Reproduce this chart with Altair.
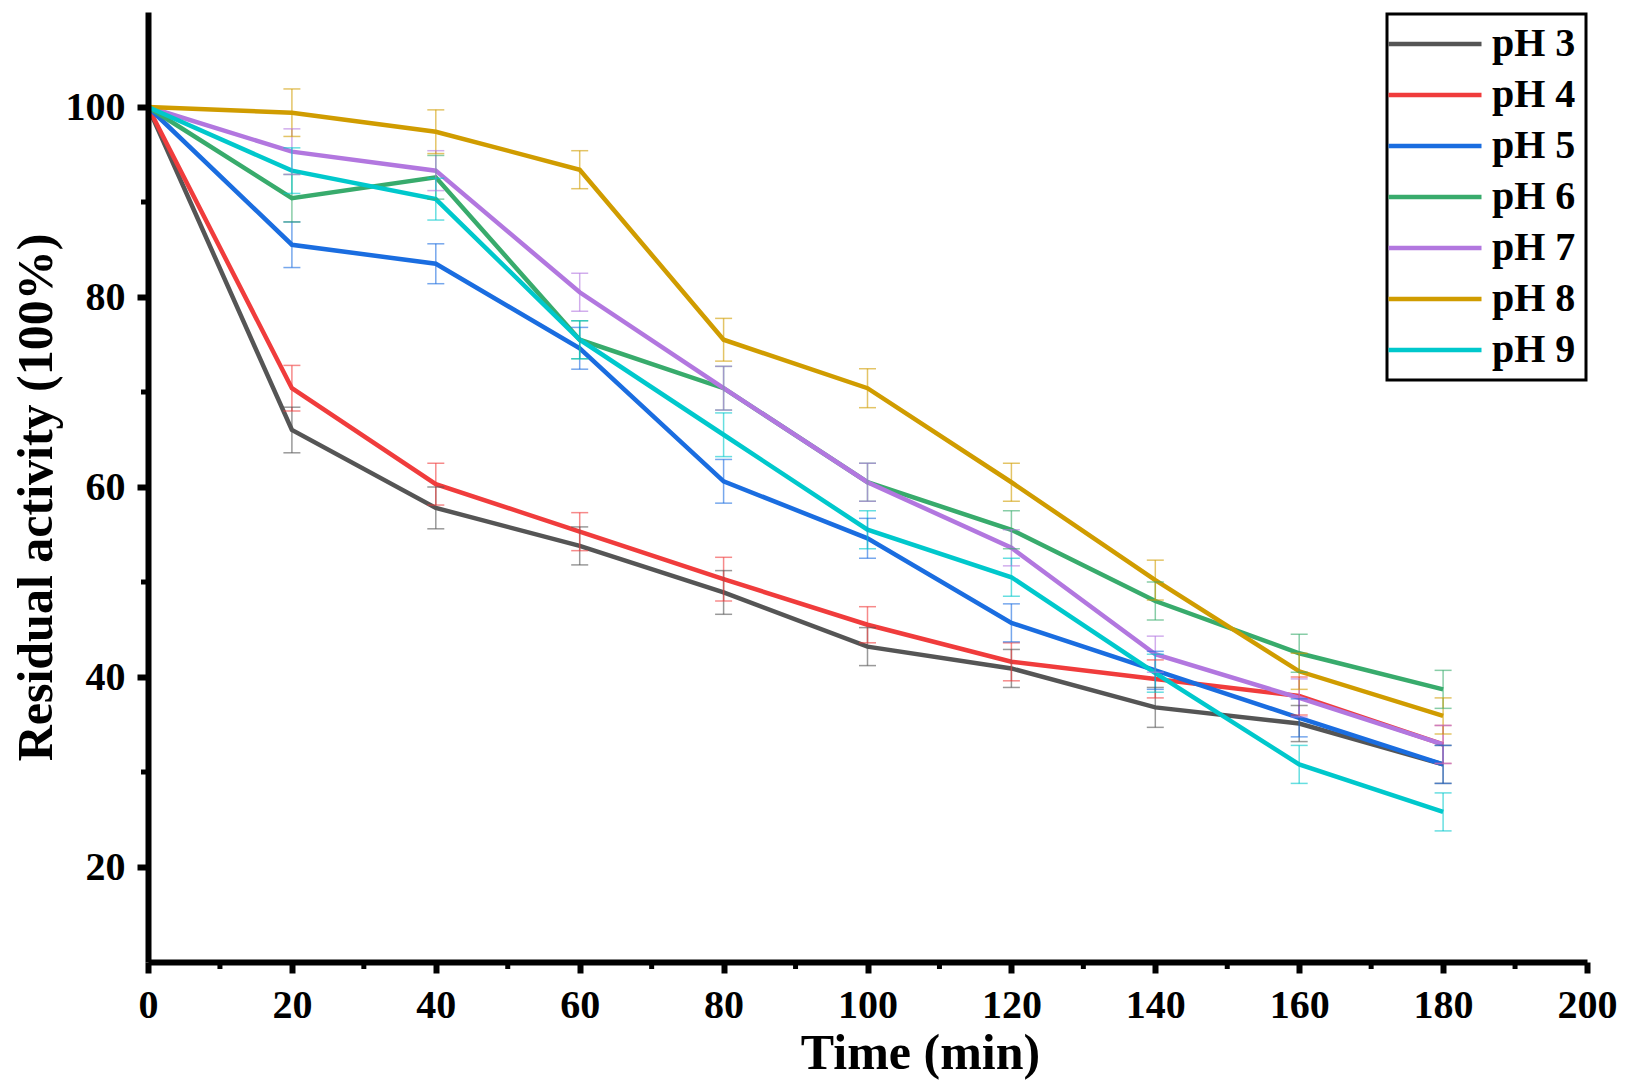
import altair as alt
import pandas as pd

# ---- data ----
times = [0, 20, 40, 60, 80, 100, 120, 140, 160, 180]
series_names = ["pH 3", "pH 4", "pH 5", "pH 6", "pH 7", "pH 8", "pH 9"]
colors = ["#555555", "#f03c3c", "#1a6de0", "#38ab6c", "#b277df", "#d09c00", "#00c8cc"]

ph3 = [100, 66.0, 57.8, 53.8, 48.9, 43.2, 40.9, 36.8, 35.1, 30.8]
ph4 = [100, 70.4, 60.3, 55.3, 50.3, 45.5, 41.6, 39.8, 38.0, 32.9]
ph5 = [100, 85.5, 83.5, 74.6, 60.6, 54.6, 45.7, 40.7, 35.7, 30.8]
ph6 = [100, 90.4, 92.6, 75.5, 70.4, 60.5, 55.5, 48.0, 42.5, 38.7]
ph7 = [100, 95.3, 93.3, 80.5, 70.4, 60.5, 53.6, 42.4, 37.8, 32.9]
ph8 = [100, 99.4, 97.4, 93.4, 75.5, 70.4, 60.5, 50.2, 40.6, 35.9]
ph9 = [100, 93.3, 90.3, 75.5, 65.5, 55.5, 50.5, 40.4, 30.8, 25.8]

err3 = [0, 2.4, 2.2, 2.0, 2.3, 2.0, 2.0, 2.1, 1.9, 2.0]
err4 = [0, 2.4, 2.2, 2.0, 2.3, 1.9, 2.0, 2.0, 2.0, 2.0]
err5 = [0, 2.4, 2.1, 2.2, 2.3, 2.1, 2.0, 2.0, 2.0, 2.0]
err6 = [0, 2.5, 2.3, 2.0, 2.3, 2.0, 2.0, 2.0, 2.0, 2.0]
err7 = [0, 2.4, 2.1, 2.0, 2.3, 2.0, 1.9, 1.9, 2.0, 2.0]
err8 = [0, 2.5, 2.3, 2.0, 2.25, 2.05, 2.0, 2.1, 1.9, 1.9]
err9 = [0, 2.4, 2.2, 2.0, 2.3, 2.0, 2.0, 2.0, 2.0, 2.0]

x_ticks = [0, 20, 40, 60, 80, 100, 120, 140, 160, 180, 200]
y_ticks = [20, 40, 60, 80, 100]
x_minor = [10, 30, 50, 70, 90, 110, 130, 150, 170, 190]
y_minor = [30, 50, 70, 90]

values = [ph3, ph4, ph5, ph6, ph7, ph8, ph9]
errors = [err3, err4, err5, err6, err7, err8, err9]

rows = []
for name, vals, errs in zip(series_names, values, errors):
    for t, v, e in zip(times, vals, errs):
        rows.append({"time": t, "activity": v, "err": e, "series": name,
                     "order": series_names.index(name)})
df = pd.DataFrame(rows)
df["lo"] = df["activity"] - df["err"]
df["hi"] = df["activity"] + df["err"]
df_err = df[df["err"] > 0]

FONT = "Liberation Serif"
W, H = 1439, 950

xscale = alt.Scale(domain=[0, 200], nice=False, zero=False)
yscale = alt.Scale(domain=[10, 110], nice=False, zero=False)

legend = alt.Legend(title=None, orient="none", legendX=1239, legendY=2,
                    symbolType="M-3,0H3", symbolSize=961,
                    symbolStrokeWidth=4.5, symbolOffset=18, symbolOpacity=1,
                    labelFont=FONT, labelFontWeight="bold",
                    labelFontSize=40, labelColor="black",
                    labelOffset=37, rowPadding=11, padding=10,
                    strokeColor="black", fillColor="white")
color = alt.Color("series:N", scale=alt.Scale(domain=series_names, range=colors),
                  sort=series_names, legend=legend)

xaxis = alt.Axis(values=x_ticks, title="Time (min)", grid=False, zindex=1,
                 labelFlush=False, titleX=772, titleY=106, titleBaseline="alphabetic",
                 titleAlign="center", labelPadding=12, tickSize=11)
yaxis = alt.Axis(values=y_ticks, title="Residual activity (100%)", grid=False, zindex=1,
                 labelFlush=False, titleX=-112, titleY=H / 2 + 10, titleAngle=-90,
                 titleBaseline="middle", titleAlign="center",
                 labelPadding=12, tickSize=11)

base = alt.Chart(df)

lines = base.mark_line(strokeWidth=4.5).encode(
    x=alt.X("time:Q", scale=xscale, axis=xaxis),
    y=alt.Y("activity:Q", scale=yscale, axis=yaxis),
    color=color,
    order="order:Q",
    detail="series:N",
)

err_base = alt.Chart(df_err)
err_rules = err_base.mark_rule(strokeWidth=1.5, opacity=0.6).encode(
    x=alt.X("time:Q", scale=xscale),
    y=alt.Y("lo:Q", scale=yscale),
    y2="hi:Q",
    color=color,
)
cap_hi = err_base.mark_tick(size=17, thickness=1.5, orient="horizontal", opacity=0.6).encode(
    x=alt.X("time:Q", scale=xscale),
    y=alt.Y("hi:Q", scale=yscale),
    color=color,
)
cap_lo = err_base.mark_tick(size=17, thickness=1.5, orient="horizontal", opacity=0.6).encode(
    x=alt.X("time:Q", scale=xscale),
    y=alt.Y("lo:Q", scale=yscale),
    color=color,
)

minor_x = alt.Chart(pd.DataFrame({"t": x_minor})).mark_rule(
    strokeWidth=5, color="black").encode(
    x=alt.X("t:Q", scale=xscale), y=alt.value(H), y2=alt.value(H + 7))
minor_y = alt.Chart(pd.DataFrame({"v": y_minor})).mark_rule(
    strokeWidth=5, color="black").encode(
    y=alt.Y("v:Q", scale=yscale), x=alt.value(-7), x2=alt.value(0))

chart = alt.layer(lines, err_rules, cap_hi, cap_lo, minor_x, minor_y).properties(
    width=W, height=H,
    autosize=alt.AutoSizeParams(type="none"),
    padding={"left": 140, "top": 4, "right": 30, "bottom": 118},
).configure_view(stroke=None).configure_axis(
    domainColor="black", domainWidth=6, tickColor="black", tickWidth=6,
    labelColor="black", labelFont=FONT, labelFontWeight="bold", labelFontSize=40,
    titleColor="black", titleFont=FONT, titleFontWeight="bold", titleFontSize=50,
).configure_legend(strokeWidth=3)

chart.save("out.html", embed_options={"renderer": "svg", "actions": False})
